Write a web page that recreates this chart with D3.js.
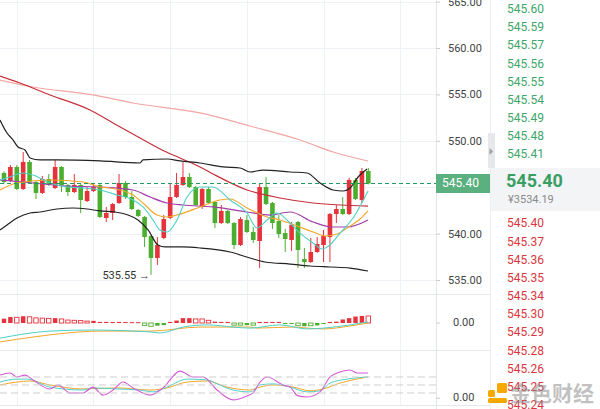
<!DOCTYPE html>
<html><head><meta charset="utf-8">
<script src="https://cdn.jsdelivr.net/npm/d3@7/dist/d3.min.js"></script>
<style>body{margin:0;background:#fff;}svg{display:block;font-family:Roboto,"Liberation Sans",Arial,sans-serif;}</style>
</head><body><svg id="c" width="600" height="409"></svg>
<script>
// ---------- DATA ----------
const opens  = [546.53,545.67,547.18,544.81,547.72,545.56,544.38,545.88,544.91,547.18,545.24,544.48,545.24,543.51,544.59,545.24,541.68,542.22,543.30,545.45,543.94,542.54,541.79,539.74,537.37,539.53,541.68,543.94,545.24,546.10,545.02,542.87,544.81,543.41,541.14,542.44,541.14,538.77,541.47,540.17,539.20,545.02,543.30,541.36,540.06,539.31,541.25,537.26,536.94,538.02,538.77,539.63,542.11,542.65,542.11,545.78,543.62,546.75];
const highs  = [546.70,547.39,547.39,548.79,547.93,545.67,546.21,546.42,547.93,547.28,545.34,546.42,545.34,545.02,545.45,545.34,542.87,543.30,546.42,545.67,544.59,542.65,541.90,539.85,539.63,542.00,545.45,546.53,547.72,546.53,545.13,544.91,545.02,543.51,543.08,542.54,541.25,541.79,542.00,540.71,545.45,546.10,543.41,542.00,540.50,541.25,541.36,538.45,539.53,539.63,540.39,542.22,543.08,543.94,546.00,546.00,547.07,547.07];
const lows   = [545.40,545.56,544.70,544.70,545.45,543.73,544.27,545.13,544.81,544.48,544.05,544.38,542.22,543.40,544.48,541.68,541.25,541.47,543.19,543.73,542.54,541.79,538.56,535.55,536.62,539.40,541.57,543.83,545.13,544.91,542.97,542.65,543.19,540.60,541.03,541.03,538.34,538.66,540.06,538.99,536.29,543.08,540.50,539.53,538.02,538.13,536.29,536.29,536.83,537.91,536.94,536.94,541.14,542.00,542.00,543.62,543.30,545.30];
const closes = [545.56,547.18,544.81,547.72,545.56,544.38,545.88,545.24,547.18,545.24,544.48,545.24,543.62,544.59,545.02,541.79,542.22,543.19,545.45,543.94,542.65,541.90,539.63,537.37,538.77,541.57,543.94,545.24,546.10,545.02,543.08,544.81,543.30,541.14,542.44,541.14,538.77,541.57,540.17,539.31,545.02,543.19,541.14,539.96,539.42,540.96,538.23,536.94,538.02,538.88,539.74,542.11,542.65,542.11,545.78,543.73,546.75,545.40];

// overlay lines: [barIndex, price]
const bollUpper = [[-0.63,552.24],[0.47,550.84],[1.41,550.09],[2.19,549.33],[3.29,549.01],[4.07,548.15],[5.63,547.94],[8.29,547.94],[15.02,547.83],[21.28,547.61],[21.75,547.94],[25.51,548.04],[27.54,547.83],[30.67,547.61],[34.27,547.18],[36.93,547.07],[38.5,546.64],[40.53,546.85],[44.76,546.64],[47.42,546.53],[49.45,545.45],[51.49,544.7],[53.05,544.59],[54.15,544.91],[55.4,546.1],[56.81,546.96]];
const bollLower = [[-0.63,540.39],[0.47,540.93],[2.03,541.68],[4.07,542.22],[5.63,542.33],[8.29,542.65],[10.8,542.76],[12.99,542.65],[15.02,542.44],[17.37,542.33],[19.41,542.0],[20.97,541.47],[22.54,540.39],[24.1,538.77],[25.2,538.56],[27.86,538.56],[30.67,538.45],[35.37,538.02],[38.5,537.37],[40.85,536.94],[44.76,536.72],[47.89,536.51],[51.02,536.4],[54.15,536.29],[56.96,535.97]];
const maDarkRed = [[-0.63,556.98],[2.5,556.23],[7.2,554.94],[13.46,553.32],[17.06,551.92],[21.28,550.3],[24.73,549.01],[27.54,548.15],[30.67,547.18],[32.71,546.42],[38.03,544.7],[43.19,543.84],[48.36,543.3],[52.58,543.08],[56.96,542.97]];
const maPink = [[-0.63,556.55],[4.54,555.8],[13.93,554.94],[20.19,554.07],[30.67,553.0],[38.5,551.59],[46.32,550.09],[51.49,548.79],[56.96,547.82]];
const maPurple = [[-0.63,545.78],[4.54,545.45],[9.86,545.13],[15.02,545.02],[20.19,544.7],[22.85,543.94],[25.51,543.3],[28.01,543.08],[32.71,542.87],[38.03,542.33],[41.63,542.0],[44.76,542.33],[48.36,541.25],[51.49,540.71],[53.68,540.71],[56.96,541.47]];
const maOrange = [[-0.63,544.7],[2.03,545.45],[7.2,545.78],[12.36,545.56],[15.02,545.02],[16.59,544.91],[20.19,544.16],[21.75,543.3],[23.94,542.0],[25.51,541.79],[27.07,542.0],[30.67,542.87],[33.8,543.62],[35.37,543.73],[38.03,542.76],[41.16,541.79],[43.19,541.47],[45.85,540.82],[48.36,540.17],[50.23,539.74],[52.11,539.96],[54.15,540.82],[55.71,541.57],[56.96,542.44]];
const maCyan = [[-0.63,545.78],[0.94,546.1],[2.97,546.53],[4.54,546.31],[7.2,545.45],[9.86,545.02],[12.36,544.91],[15.02,544.7],[17.68,544.16],[20.19,543.62],[21.75,542.87],[23.32,541.47],[24.41,540.39],[25.51,540.17],[27.07,541.47],[28.64,543.94],[30.67,545.02],[32.71,545.02],[35.37,543.62],[38.03,542.22],[39.59,540.6],[41.16,541.47],[42.72,542.22],[44.76,541.14],[46.32,540.06],[48.36,538.99],[49.76,538.34],[51.0,538.77],[52.58,540.06],[54.62,541.68],[56.96,544.59]];

const lastPrice = 545.40;
const lowMark = {i: 23, v: 535.55};
const priceTicks = [535, 540, 545, 550, 555, 560, 565];
const labelTicks = [535, 540, 550, 555, 560, 565];
const gridIdx = [2, 14, 26, 38, 50, 62];

// MACD histogram per bar + hollow flags
const macdHist = [0.16,0.22,0.21,0.25,0.23,0.19,0.18,0.17,0.18,0.15,0.11,0.10,0.09,0.07,0.08,0.04,0.04,0.035,0.04,0.035,0.03,0.03,-0.09,-0.12,-0.10,-0.08,0.04,0.09,0.18,0.18,0.15,0.15,0.10,0.05,0.04,0.04,-0.08,-0.08,-0.08,-0.08,0.04,0.04,0.04,0.04,-0.03,-0.03,-0.10,-0.12,-0.10,-0.09,-0.03,0.04,0.05,0.13,0.18,0.24,0.26,0.26];
const macdHollow = [0,0,1,0,1,1,1,1,0,1,1,1,1,1,0,0,0,0,0,0,0,0,1,1,0,0,0,0,0,0,1,1,1,0,0,0,1,1,0,1,0,0,0,0,0,0,1,0,1,0,0,0,0,0,0,0,0,1];
const macdDif = [[-0.63,-0.56],[7.2,-0.30],[13.46,-0.26],[22.85,-0.33],[24.41,-0.37],[28.01,-0.15],[31.77,-0.07],[35.84,-0.15],[38.5,-0.19],[43.19,-0.07],[47.42,-0.22],[49.92,-0.19],[54.15,-0.07],[56.96,0.04]];
const macdDea = [[-0.63,-0.70],[4.54,-0.52],[9.86,-0.37],[15.02,-0.30],[22.85,-0.30],[30.67,-0.15],[38.5,-0.15],[39.59,-0.19],[44.76,-0.15],[49.92,-0.22],[54.15,-0.11],[56.96,0.0]];

// KDJ
const kdjJ = [[-0.63,87],[0.94,95],[2.03,80],[3.29,87],[4.54,69],[7.2,35],[8.45,50],[10.33,20],[12.36,20],[13.93,42],[15.49,12],[17.06,31],[18.62,61],[20.19,39],[22.85,12],[24.88,39],[27.54,102],[29.58,80],[31.14,80],[33.33,31],[35.84,-6],[38.03,9],[38.97,20],[40.06,61],[41.16,80],[43.66,50],[44.76,42],[46.0,9],[47.42,5],[49.45,24],[51.02,80],[52.58,99],[54.15,106],[55.24,95],[56.96,95]];
const kdjK = [[-0.63,61],[2.03,72],[3.6,72],[7.2,42],[12.36,31],[13.93,39],[17.68,35],[21.28,31],[23.32,24],[25.51,42],[28.64,72],[31.77,69],[33.33,54],[35.84,31],[38.5,24],[40.06,50],[42.1,54],[44.76,42],[47.42,24],[49.45,28],[51.02,57],[53.68,72],[56.96,80]];
const kdjD = [[-0.63,50],[2.03,61],[4.07,65],[7.2,50],[12.36,35],[17.68,39],[22.85,31],[25.51,39],[28.64,61],[31.77,65],[34.9,42],[38.5,31],[40.06,42],[42.1,50],[45.23,42],[47.89,28],[49.92,35],[52.58,57],[56.96,80]];
const kdjLevels = [80, 50, 20];

const asks = ["545.60","545.59","545.57","545.56","545.55","545.54","545.49","545.48","545.41"];
const bids = ["545.40","545.37","545.36","545.35","545.34","545.30","545.29","545.28","545.26","545.25","545.24"];
const cnyPrice = "¥3534.19";

// ---------- CHART ----------
const svg = d3.select("#c");
const W = 436;
const RED = "#e5323b", GREEN = "#4cae2f";
const x = d3.scaleLinear().domain([0, 57]).range([4, 368.3]);
const y = d3.scaleLinear().domain([535, 560]).range([280, 48]);
const ym = d3.scaleLinear().domain([-1, 1]).range([350, 296]);
const yk = d3.scaleLinear().domain([0, 60]).range([398.3, 382.3]);

svg.append("defs").append("clipPath").attr("id","cm").append("rect").attr("x",0).attr("y",0).attr("width",W).attr("height",294);
svg.append("defs").append("clipPath").attr("id","ck").append("rect").attr("x",0).attr("y",351).attr("width",W).attr("height",58);

// grid
const grid = svg.append("g");
grid.selectAll(".vg").data(gridIdx).join("line")
  .attr("x1", d => Math.round(x(d)) + 0.5).attr("x2", d => Math.round(x(d)) + 0.5)
  .attr("y1", 0).attr("y2", 405).attr("stroke", "#eef1f5");
grid.selectAll(".hg").data(priceTicks).join("line")
  .attr("x1", 0).attr("x2", W).attr("y1", d => Math.round(y(d)) + 0.5).attr("y2", d => Math.round(y(d)) + 0.5)
  .attr("stroke", "#eef1f5");
// panel separators
[294.5, 350.5, 405.5].forEach(v => svg.append("line").attr("x1",0).attr("x2",490).attr("y1",v).attr("y2",v).attr("stroke","#e4e8ec"));
svg.append("line").attr("x1",W+0.5).attr("x2",W+0.5).attr("y1",0).attr("y2",409).attr("stroke","#e2e5e9");

// main panel overlays
const main = svg.append("g").attr("clip-path","url(#cm)");
const line = d3.line().x(d => x(d[0])).y(d => y(d[1])).curve(d3.curveMonotoneX);
const ov = [[maPink,"#f2a7a4",1.2],[maDarkRed,"#c5303a",1.2],[bollUpper,"#222",1.2],[bollLower,"#222",1.2],[maPurple,"#a13ea8",1.2],[maOrange,"#f4a62a",1.1],[maCyan,"#4fd0c8",1.1]];

// candles
const idx = d3.range(opens.length);
const cg = main.append("g");
cg.selectAll(".w").data(idx).join("line")
  .attr("x1", i => x(i)).attr("x2", i => x(i))
  .attr("y1", i => y(highs[i])).attr("y2", i => y(lows[i]))
  .attr("stroke", i => closes[i] >= opens[i] ? RED : GREEN).attr("stroke-width", 1);
cg.selectAll(".b").data(idx).join("rect")
  .attr("x", i => x(i) - 2.3).attr("width", 4.6)
  .attr("y", i => y(Math.max(opens[i], closes[i])))
  .attr("height", i => Math.max(1, Math.abs(y(opens[i]) - y(closes[i]))))
  .attr("fill", i => closes[i] >= opens[i] ? RED : GREEN);

ov.forEach(([d,c,w]) => main.append("path").datum(d).attr("d", line).attr("fill","none").attr("stroke",c).attr("stroke-width",w));

// last price dashed line
svg.append("line").attr("x1",0).attr("x2",W).attr("y1",y(lastPrice)).attr("y2",y(lastPrice))
  .attr("stroke","#1f9a62").attr("stroke-dasharray","4,3").attr("stroke-width",1);

// low annotation
svg.append("text").attr("x", x(lowMark.i) - 1).attr("y", y(lowMark.v) + 1).attr("text-anchor","end")
  .attr("dominant-baseline","middle").attr("font-size",11).attr("fill","#333")
  .text(d3.format(".2f")(lowMark.v) + " \u2192");

// price axis
const ax = svg.append("g").attr("transform", `translate(${W},0)`)
  .call(d3.axisRight(y).tickValues(labelTicks).tickFormat(d3.format(".2f")).tickSize(4).tickPadding(8));
ax.select(".domain").remove();
ax.selectAll("line").attr("stroke","#ccc");
ax.selectAll("text").attr("font-size",11).attr("fill","#444").attr("font-family","Roboto,Arial,sans-serif");

// last price tag
svg.append("rect").attr("x",W).attr("y",y(lastPrice)-9.5).attr("width",54).attr("height",19).attr("fill","#5bb07f");
svg.append("text").attr("x",W+6).attr("y",y(lastPrice)).attr("dominant-baseline","middle")
  .attr("font-size",12).attr("fill","#fff").text(d3.format(".2f")(lastPrice));

// MACD
const mg = svg.append("g");
mg.selectAll("rect").data(idx).join("rect")
  .attr("x", i => x(i) - 2.2).attr("width", 4.4)
  .attr("y", i => Math.min(ym(0), ym(macdHist[i])))
  .attr("height", i => Math.max(1, Math.abs(ym(macdHist[i]) - ym(0))))
  .attr("fill", i => macdHollow[i] ? "#fff" : (macdHist[i] >= 0 ? RED : GREEN))
  .attr("stroke", i => macdHollow[i] ? (macdHist[i] >= 0 ? RED : GREEN) : "none")
  .attr("stroke-width", 0.9);
const lm = d3.line().x(d => x(d[0])).y(d => ym(d[1])).curve(d3.curveMonotoneX);
mg.append("path").datum(macdDea).attr("d",lm).attr("fill","none").attr("stroke","#f4a62a").attr("stroke-width",1);
mg.append("path").datum(macdDif).attr("d",lm).attr("fill","none").attr("stroke","#4fd0c8").attr("stroke-width",1);
svg.append("text").attr("x",453).attr("y",ym(0)).attr("dominant-baseline","middle").attr("font-size",11).attr("fill","#444").text("0.00");
svg.append("line").attr("x1",W).attr("x2",W+4).attr("y1",ym(0)).attr("y2",ym(0)).attr("stroke","#ccc");

// KDJ
const kg = svg.append("g").attr("clip-path","url(#ck)");
svg.selectAll(".kl").data(kdjLevels).join("line")
  .attr("x1",0).attr("x2",W).attr("y1",d => yk(d)).attr("y2",d => yk(d))
  .attr("stroke","#cfcfcf").attr("stroke-dasharray","7,4");
const lk = d3.line().x(d => x(d[0])).y(d => yk(d[1])).curve(d3.curveMonotoneX);
kg.append("path").datum(kdjD).attr("d",lk).attr("fill","none").attr("stroke","#f4a62a").attr("stroke-width",1);
kg.append("path").datum(kdjK).attr("d",lk).attr("fill","none").attr("stroke","#4fd0c8").attr("stroke-width",1);
kg.append("path").datum(kdjJ).attr("d",lk).attr("fill","none").attr("stroke","#d65ad6").attr("stroke-width",1.1);
svg.append("text").attr("x",453).attr("y",yk(0)).attr("dominant-baseline","middle").attr("font-size",11).attr("fill","#444").text("0.00");
svg.append("line").attr("x1",W).attr("x2",W+4).attr("y1",yk(0)).attr("y2",yk(0)).attr("stroke","#ccc");

// right side panel
svg.append("line").attr("x1",490.5).attr("x2",490.5).attr("y1",0).attr("y2",409).attr("stroke","#eceef1");
svg.append("rect").attr("x",488).attr("y",133).attr("width",7).attr("height",35).attr("fill","#e6e8eb");
svg.append("path").attr("d","M489.5,148 L493,151.5 L489.5,155 Z").attr("fill","#9aa0a6");
svg.append("rect").attr("x",491).attr("y",168).attr("width",109).attr("height",43).attr("fill","#f3f4f6");
const askY = d3.scaleLinear().domain([0, 8]).range([10, 155]);
svg.selectAll(".ask").data(asks).join("text")
  .attr("x",507).attr("y",(d,i) => askY(i)).attr("dominant-baseline","middle")
  .attr("font-size",12).attr("fill","#3da66a").text(d => d);
svg.append("text").attr("x",506).attr("y",182).attr("dominant-baseline","middle")
  .attr("font-size",18).attr("font-weight","bold").attr("fill","#3a9e63").text(d3.format(".2f")(lastPrice));
svg.append("text").attr("x",508).attr("y",200).attr("dominant-baseline","middle")
  .attr("font-size",11).attr("fill","#8a8a8a").text(cnyPrice);
const bidY = d3.scaleLinear().domain([0, 10]).range([224.3, 406]);
svg.selectAll(".bid").data(bids).join("text")
  .attr("x",507).attr("y",(d,i) => bidY(i)).attr("dominant-baseline","middle")
  .attr("font-size",12).attr("fill","#d9363e").text(d => d);

// watermark logo
const lg = svg.append("g").attr("fill","#f5a800");
lg.append("rect").attr("x",497).attr("y",383).attr("width",10).attr("height",10).attr("rx",1.5);
lg.append("rect").attr("x",488).attr("y",390).attr("width",7).attr("height",7).attr("rx",1.5);
lg.append("rect").attr("x",488).attr("y",398).attr("width",19).attr("height",5).attr("rx",1.5);
svg.append("text").attr("x",510).attr("y",401).attr("font-size",21).attr("font-weight","bold")
  .attr("font-family","'Noto Sans CJK SC',sans-serif").attr("fill","rgba(140,140,140,0.55)").text("金色财经");
</script></body></html>
